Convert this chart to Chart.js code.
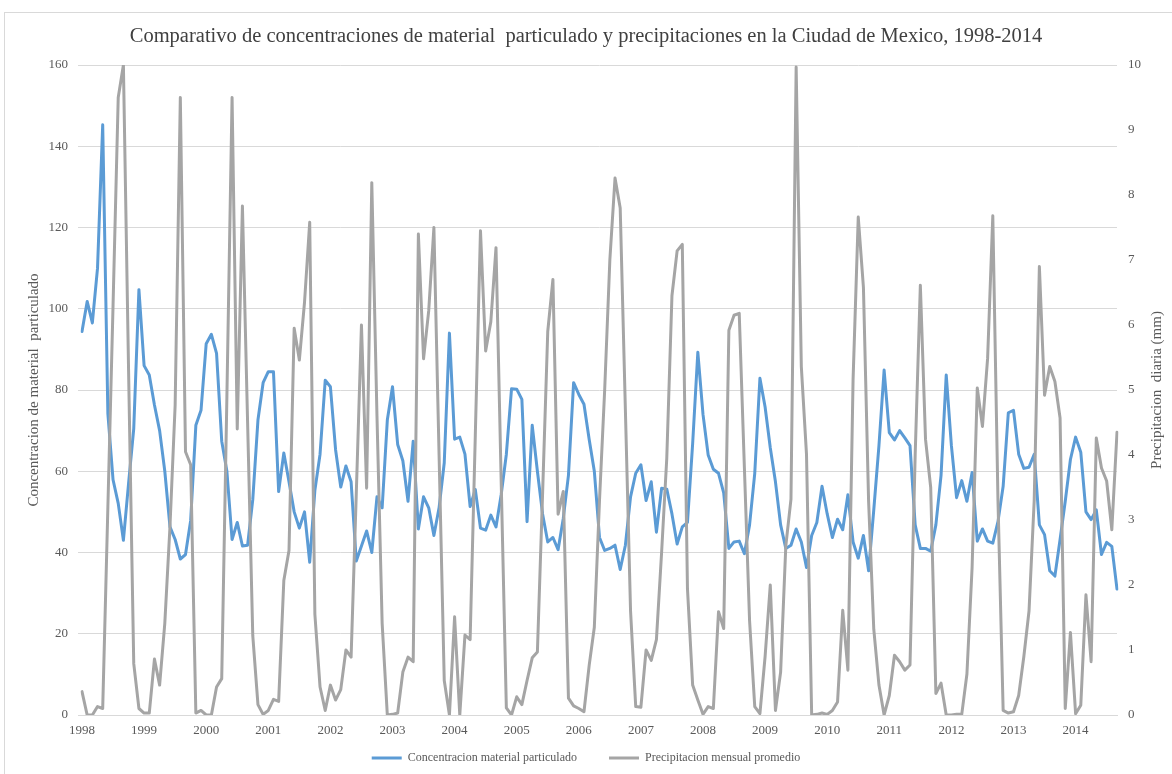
<!DOCTYPE html>
<html>
<head>
<meta charset="utf-8">
<script src="https://cdn.jsdelivr.net/npm/chart.js@4/dist/chart.umd.min.js"></script>
<style>
html,body{margin:0;padding:0;background:#ffffff;}
#c{display:block;}
</style>
</head>
<body>
<canvas id="c" width="1172" height="774"></canvas>
<script>
// ---- data (monthly, Jan 1998 .. Sep 2014) ----
const tickYears = ['1998','1999','2000','2001','2002','2003','2004','2005','2006','2007','2008','2009','2010','2011','2012','2013','2014'];

// Concentracion material particulado (left axis)
const pm = [
 94.4,101.8,96.5,110,145.3,74.2,57.9,52.1,43,57,70.5,104.7,
 86,83.7,76.3,70,60,46.3,43.2,38.4,39.5,47.9,71.3,75,
 91.4,93.7,89,67.4,60,43.2,47.4,41.6,41.8,53,72.6,81.8,
 84.5,84.5,55,64.5,57.4,50,46,50,37.6,55.3,64.2,82.4,
 80.8,65.3,56.1,61.3,57.4,37.9,41.6,45.3,40,53.7,51,72.6,
 80.8,66.6,62.6,52.6,67.4,45.8,53.7,51,44.2,51,62.1,94,
 67.9,68.4,64.2,51.3,55.5,46,45.5,49.2,46.3,54.2,64.2,80.3,
 80.2,77.7,47.6,71.3,60,49.5,42.6,43.7,40.7,48.4,59,81.8,
 78.9,76.5,67.9,60,43.7,40.5,41,41.8,35.8,41.8,53.7,59.5,
 61.6,52.8,57.4,45,55.8,55.6,49.5,42.1,46.3,47.4,66.8,89.3,
 74,64,60.5,59.5,54.7,41,42.6,42.8,39.7,46.8,59.5,82.9,
 75.8,65.8,57.4,46.8,41,41.8,45.8,42.6,36.3,44.2,47.4,56.3,
 49.5,43.7,48.2,45.6,54.2,42.6,38.6,44.2,35.5,50.5,66.3,84.9,
 69.5,67.7,70,68.2,66.3,46.8,41,41,40.3,46.8,59,83.7,
 66.3,53.5,57.7,52.6,59.7,42.8,45.8,42.8,42.3,47.6,56.3,74.4,
 75,64.2,60.7,61,64.2,46.8,44.4,35.5,34.2,43.2,52.6,62.9,
 68.4,64.7,50,48.1,50.5,39.5,42.5,41.5,31
];

// Precipitacion mensual promedio (right axis, mm)
const rain = [
 0.36,0,0,0.13,0.1,3.2,6.3,9.5,10,5.3,0.79,0.1,
 0.03,0.03,0.86,0.46,1.41,2.9,4.77,9.5,4.05,3.85,0.03,0.07,
 0,0,0.43,0.56,4.9,9.5,4.4,7.83,4.5,1.22,0.16,0.01,
 0.07,0.24,0.21,2.07,2.53,5.95,5.46,6.35,7.58,1.55,0.43,0.07,
 0.46,0.23,0.39,1.0,0.89,3.4,6.0,3.49,8.19,4.6,1.41,0,
 0.01,0.03,0.66,0.89,0.82,7.4,5.48,6.22,7.5,4.0,0.53,0,
 1.51,0,1.23,1.16,4.3,7.45,5.6,6.05,7.19,3.6,0.11,0,
 0.28,0.16,0.53,0.88,0.97,3.4,5.9,6.7,3.09,3.44,0.26,0.14,
 0.1,0.05,0.76,1.35,3.3,5.0,7.0,8.26,7.8,4.7,1.6,0.13,
 0.12,1.0,0.84,1.16,2.5,3.95,6.45,7.14,7.24,1.94,0.46,0.23,
 0.01,0.13,0.1,1.59,1.33,5.92,6.15,6.18,3.8,1.45,0.13,0.02,
 0.9,2.0,0.07,0.66,2.6,3.32,9.97,5.36,4.01,0,0.01,0.03,
 0.01,0.07,0.2,1.61,0.69,5.16,7.66,6.58,3.29,1.32,0.46,0,
 0.3,0.92,0.82,0.69,0.77,4.0,6.61,4.24,3.5,0.33,0.49,0,
 0,0.01,0.01,0.63,2.27,5.03,4.44,5.49,7.68,3.3,0.07,0.03,
 0.05,0.3,0.9,1.6,3.3,6.9,4.92,5.36,5.13,4.57,0.1,1.27,
 0.02,0.15,1.85,0.82,4.26,3.8,3.6,2.85,4.35
];

const leftTicks = { min: 0, max: 160, step: 20 };
const rightTicks = { min: 0, max: 10, step: 1 };

// categories: one per month
const categories = pm.map((_, i) => tickYears[Math.floor(i / 12)] + '-' + String(i % 12 + 1).padStart(2, '0'));

const SERIF = '"Liberation Serif", "Times New Roman", serif';
const GRID = '#d9d9d9';
const TXT = '#595959';

const chartBorder = {
  id: 'chartBorder',
  beforeDraw(chart) {
    const c = chart.ctx;
    c.save();
    c.fillStyle = '#ffffff';
    c.fillRect(0, 0, chart.width, chart.height);
    c.strokeStyle = GRID;
    c.lineWidth = 1;
    c.strokeRect(4.5, 12.5, 1200, 800);
    c.restore();
  }
};

const rightTitle = {
  id: 'rightTitle',
  afterDraw(chart) {
    const c = chart.ctx;
    const a = chart.chartArea;
    c.save();
    c.translate(1157, (a.top + a.bottom) / 2);
    c.rotate(-Math.PI / 2);
    c.font = '15px ' + SERIF;
    c.fillStyle = TXT;
    c.textAlign = 'center';
    c.textBaseline = 'middle';
    c.fillText('Precipitacion  diaria (mm)', 0, 0);
    c.restore();
  }
};

new Chart(document.getElementById('c'), {
  type: 'line',
  data: {
    labels: categories,
    datasets: [
      {
        label: 'Concentracion material particulado',
        data: pm,
        yAxisID: 'y',
        borderColor: '#5B9BD5',
        backgroundColor: '#5B9BD5',
        borderWidth: 3,
        pointRadius: 0,
        tension: 0,
        borderJoinStyle: 'round',
        borderCapStyle: 'round',
        order: 1
      },
      {
        label: 'Precipitacion mensual promedio',
        data: rain,
        yAxisID: 'y1',
        borderColor: '#A5A5A5',
        backgroundColor: '#A5A5A5',
        borderWidth: 3,
        pointRadius: 0,
        tension: 0,
        borderJoinStyle: 'round',
        borderCapStyle: 'round',
        order: 0
      }
    ]
  },
  options: {
    responsive: false,
    animation: false,
    devicePixelRatio: 1,
    layout: { padding: { left: 0, right: 0, top: 0, bottom: 0 } },
    plugins: {
      title: {
        display: true,
        text: 'Comparativo de concentraciones de material  particulado y precipitaciones en la Ciudad de Mexico, 1998-2014',
        font: { family: SERIF, size: 20.5, weight: 'normal' },
        color: '#404040',
        padding: { top: 24, bottom: 16.4 }
      },
      legend: {
        position: 'bottom',
        labels: {
          font: { family: SERIF, size: 12 },
          color: TXT,
          boxWidth: 30,
          boxHeight: 3,
          padding: 32,
          sort: (a, b) => a.datasetIndex - b.datasetIndex,
          generateLabels: (chart) => Chart.defaults.plugins.legend.labels.generateLabels(chart)
            .map(l => Object.assign({}, l, { fillStyle: l.strokeStyle, lineWidth: 0 }))
        }
      },
      tooltip: { enabled: false }
    },
    scales: {
      x: {
        type: 'category',
        offset: false,
        grid: { display: false, drawTicks: false },
        border: { display: true, color: GRID, width: 1 },
        ticks: {
          autoSkip: false,
          maxRotation: 0,
          minRotation: 0,
          mirror: true,
          padding: -23.6,
          color: TXT,
          font: { family: SERIF, size: 13 },
          callback: function (v, i) { return i % 12 === 0 ? tickYears[i / 12] : ''; }
        },
        afterFit: (s) => {
          const lg = s.chart.legend;
          const lh = lg && lg.height ? lg.height : 54;
          s.height = Math.max(0, 774 - 715 - lh);
        }
      },
      y: {
        position: 'left',
        min: leftTicks.min,
        max: leftTicks.max,
        ticks: { stepSize: leftTicks.step, padding: 10, color: TXT, font: { family: SERIF, size: 13 } },
        grid: { color: GRID, lineWidth: 1, drawTicks: true, tickLength: 4 },
        border: { display: false },
        title: {
          display: true,
          text: 'Concentracion de material  particulado',
          color: TXT,
          font: { family: SERIF, size: 15 },
          padding: { top: 25, bottom: 0 }
        },
        afterFit: (s) => { s.width = 82; }
      },
      y1: {
        position: 'right',
        min: rightTicks.min,
        max: rightTicks.max,
        ticks: { stepSize: rightTicks.step, padding: 11, color: TXT, font: { family: SERIF, size: 13 } },
        grid: { display: false, drawTicks: false, drawOnChartArea: false },
        border: { display: false },
        afterFit: (s) => { s.width = 55; }
      }
    }
  },
  plugins: [chartBorder, rightTitle]
});
</script>
</body>
</html>
